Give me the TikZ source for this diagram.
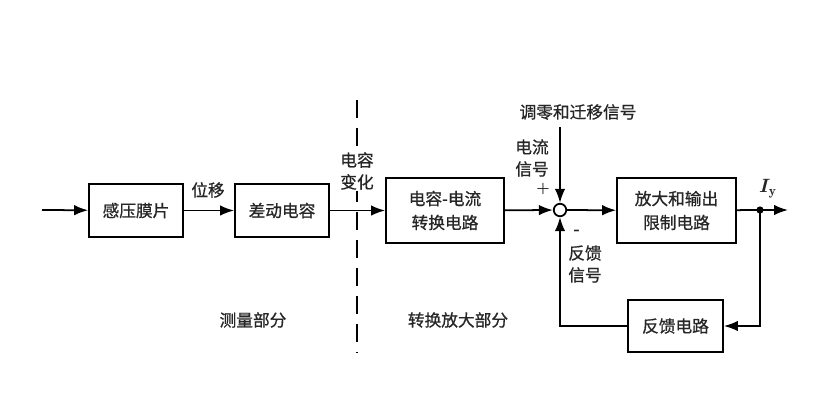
\documentclass[tikz,border=0pt]{standalone}
\usepackage{fontspec}
\newfontfamily\cjk[FakeBold=0.8]{Noto Sans CJK SC}
\usepackage{bm}
\usetikzlibrary{arrows.meta}

\begin{document}
\begin{tikzpicture}[x=0.02cm, y=-0.02cm, line width=1pt, >={Latex[length=2.8mm,width=2.1mm]},
		blk/.style={draw, rectangle, align=center, text=black!85, font=\cjk\fontsize{9.5}{13.6}\selectfont},
		lbl/.style={align=center, text=black!85, font=\cjk\fontsize{9.5}{12.5}\selectfont}]
			\useasboundingbox (0,0) rectangle (829,407);

			% blocks
			\node[blk, minimum width=1.88cm, minimum height=1.06cm] (gan) at (136,210.5) {感压膜片};
			\node[blk, minimum width=1.88cm, minimum height=1.06cm] (cha) at (282,210.5) {差动电容};
			\node[blk, minimum width=2.36cm, minimum height=1.3cm] (cv) at (445,210.5) {电容-电流\\转换电路};
			\node[draw, circle, inner sep=0pt, minimum size=0.25cm] (sum) at (560,210) {};
			\node[blk, minimum width=2.38cm, minimum height=1.3cm] (amp) at (676.5,210.5) {放大和输出\\限制电路};
			\node[blk, minimum width=1.9cm, minimum height=1.04cm] (fb) at (675.5,326) {反馈电路};

			\coordinate (in) at (42,210);
			\coordinate (out) at (788,210);
			\coordinate (top) at (560,127);
			\fill (760,210) circle (3.6) coordinate (dot);

			% dashed divider
			\draw[line width=1.2pt, dash pattern=on 0.36cm off 0.2cm] (357,100) -- (357,352);

			% labels
			\node[lbl] (wy) at (208,190) {位移};
			\node[lbl, fill=white, inner sep=1pt] (drbh) at (357,171) {电容\\变化};
			\node[lbl] (tl) at (578,112) {调零和迁移信号};
			\node[lbl] (dl) at (532,158) {电流\\信号};
			\node[lbl, font=\bfseries\fontsize{8}{9}\selectfont] (plus) at (543,189) {+};
			\node[lbl, font=\bfseries\fontsize{9}{10}\selectfont] (minus) at (577,232) {-};
			\node[lbl] (fbl) at (585,264) {反馈\\信号};
			\node[lbl, font=\fontsize{11}{12}\selectfont] (iy) at (768,189) {$\bm{I}_{\mathbf{y}}$};
			\node[lbl] (clbf) at (253,320) {测量部分};
			\node[lbl] (zhbf) at (458,320) {转换放大部分};

			% connections
			\draw[->] (in) to (gan);
			\draw[->] (gan) to (cha);
			\draw[->] (cha) to (cv);
			\draw[->] (cv) to (sum);
			\draw[->] (top) to (sum);
			\draw[->] (sum) to (amp);
			\draw (amp) to (dot);
			\draw[->] (dot) to (out);
			\draw[->] (dot) |- (fb);
			\draw[->] (fb) -| (sum);
		\end{tikzpicture}
\end{document}
